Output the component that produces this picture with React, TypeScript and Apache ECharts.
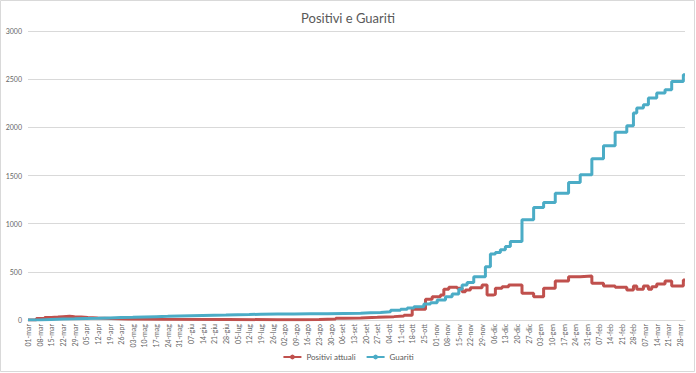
import React, { useEffect, useRef } from "react";
import * as echarts from "echarts";

// Day index 0 = 01-mar-2020, last index 395 = 31-mar-2021
const START = { y: 2020, m: 2, d: 1 };
const DAY_COUNT = 396;
const MONTHS_IT = ["gen", "feb", "mar", "apr", "mag", "giu", "lug", "ago", "set", "ott", "nov", "dic"];

// Change points (day index where the value changes) and new values
const guaritiDays = [0, 7, 14, 21, 28, 35, 42, 49, 56, 63, 70, 77, 84, 91, 98, 105, 112, 119, 126, 133, 140, 150, 160, 170, 180, 190, 200, 206, 212, 218, 224, 228, 232, 238, 242, 246, 251, 255, 259, 261, 264, 268, 275, 278, 281, 284, 287, 290, 297, 304, 310, 317, 325, 332, 339, 346, 353, 360, 364, 366, 370, 373, 378, 383, 387, 394, 395];
const guaritiValues = [0, 5, 10, 12, 15, 18, 22, 25, 28, 32, 35, 38, 42, 45, 48, 50, 52, 55, 57, 60, 62, 63, 65, 66, 68, 70, 74, 78, 85, 100, 111, 125, 138, 166, 180, 208, 242, 270, 319, 364, 388, 450, 554, 686, 700, 728, 762, 814, 1040, 1168, 1220, 1317, 1427, 1507, 1673, 1809, 1948, 2017, 2148, 2200, 2235, 2304, 2356, 2391, 2477, 2547, 2547];

const positiviDays = [0, 5, 10, 14, 18, 21, 25, 28, 32, 36, 42, 50, 60, 80, 120, 150, 165, 175, 185, 190, 200, 210, 220, 226, 231, 239, 243, 248, 250, 253, 258, 261, 263, 266, 273, 276, 280, 281, 285, 289, 297, 304, 310, 317, 325, 332, 339, 346, 353, 360, 364, 366, 370, 373, 375, 378, 383, 387, 394, 395];
const positiviValues = [0, 15, 25, 30, 35, 40, 35, 30, 25, 20, 15, 10, 8, 5, 3, 2, 5, 10, 18, 22, 28, 35, 42, 50, 111, 215, 242, 260, 319, 340, 330, 294, 312, 336, 364, 260, 267, 330, 346, 364, 277, 242, 330, 405, 450, 457, 381, 353, 340, 312, 353, 319, 353, 319, 346, 374, 405, 353, 416, 416];

const yTicks = [0, 500, 1000, 1500, 2000, 2500, 3000];

function buildCategories(): string[] {
  const out: string[] = [];
  const base = new Date(Date.UTC(START.y, START.m, START.d));
  for (let i = 0; i < DAY_COUNT; i++) {
    const dt = new Date(base.getTime() + i * 86400000);
    const dd = String(dt.getUTCDate()).padStart(2, "0");
    out.push(dd + "-" + MONTHS_IT[dt.getUTCMonth()]);
  }
  return out;
}

export default function App() {
  const ref = useRef<HTMLDivElement>(null);
  useEffect(() => {
    if (!ref.current) return;
    const chart = echarts.init(ref.current, null, { renderer: "svg" });
    const categories = buildCategories();
    const font = "Lato, 'Open Sans', sans-serif";
    chart.setOption({
      animation: false,
      backgroundColor: "#ffffff",
      title: {
        text: "Positivi e Guariti",
        left: "center",
        top: 6,
        textStyle: { fontFamily: font, fontSize: 13, fontWeight: "normal", color: "#595959" },
      },
      legend: {
        bottom: 7,
        left: "center",
        itemWidth: 18,
        itemHeight: 6,
        itemGap: 10,
        textStyle: { fontFamily: font, fontSize: 8, color: "#595959" },
        data: ["Positivi attuali", "Guariti"],
      },
      grid: { left: 28, right: 11, top: 31, bottom: 53 },
      xAxis: {
        type: "category",
        data: categories,
        boundaryGap: false,
        axisLine: { lineStyle: { color: "#d9d9d9" } },
        axisTick: { show: false },
        axisLabel: {
          interval: 6,
          rotate: 90,
          fontFamily: font,
          fontSize: 7,
          color: "#666666",
          margin: 4,
        },
        splitLine: { show: false },
      },
      yAxis: {
        type: "value",
        min: yTicks[0],
        max: yTicks[yTicks.length - 1],
        interval: 500,
        axisLine: { show: false },
        axisTick: { show: false },
        axisLabel: {
          fontFamily: font,
          fontSize: 7,
          color: "#666666",
          margin: 6,
          formatter: (v: number) => String(v),
        },
        splitLine: { lineStyle: { color: "#d9d9d9", width: 1 } },
      },
      series: [
        {
          name: "Positivi attuali",
          type: "line",
          step: "end",
          data: positiviDays.map((d, i) => [d, positiviValues[i]]),
          symbol: "circle",
          symbolSize: 3,
          showSymbol: false,
          lineStyle: { color: "#c0504d", width: 3 },
          itemStyle: { color: "#c0504d" },
          z: 2,
        },
        {
          name: "Guariti",
          type: "line",
          step: "end",
          data: guaritiDays.map((d, i) => [d, guaritiValues[i]]),
          symbol: "circle",
          symbolSize: 3,
          showSymbol: false,
          lineStyle: { color: "#4bacc6", width: 3 },
          itemStyle: { color: "#4bacc6" },
          z: 3,
        },
      ],
      graphic: [
        {
          type: "rect",
          shape: { x: 0.5, y: 0.5, width: 694, height: 371 },
          style: { fill: "none", stroke: "#d9d9d9", lineWidth: 1 },
          silent: true,
        },
      ],
    });
    return () => chart.dispose();
  }, []);
  return (
    <div
      ref={ref}
      style={{ position: "fixed", left: 0, top: 0, width: 696, height: 373 }}
    />
  );
}
